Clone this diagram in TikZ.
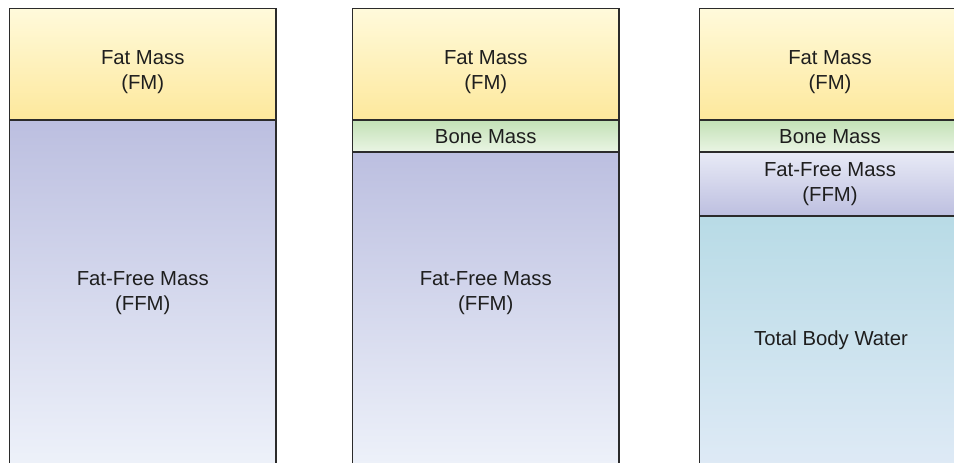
\documentclass[tikz,border=0pt]{standalone}
\usepackage{fontspec}
\setmainfont{Liberation Sans}
\definecolor{fmtop}{HTML}{FFFADB}
\definecolor{fmbot}{HTML}{FDE89C}
\definecolor{fftop}{HTML}{BCBFE0}
\definecolor{ffbot}{HTML}{EEF2FA}
\definecolor{bntop}{HTML}{C3E1B6}
\definecolor{bnbot}{HTML}{EAF5E4}
\definecolor{f3top}{HTML}{E8EAF6}
\definecolor{f3bot}{HTML}{BDBFE0}
\definecolor{wtop}{HTML}{B8DBE6}
\definecolor{wbot}{HTML}{DFEAF6}
\definecolor{edge}{HTML}{2B2B2B}
\definecolor{txt}{HTML}{1E1E1E}
\tikzset{
  lbl/.style={font=\fontsize{20.3}{24.5}\selectfont, text=txt, align=center, inner sep=0pt},
  rim/.style={draw=edge, line width=1.6pt}
}
\begin{document}
\begin{tikzpicture}[x=1pt,y=-1pt]
\useasboundingbox (0,0) rectangle (954,463);
\clip (0,0) rectangle (954,463);
% column 1
\shade[top color=fmtop, bottom color=fmbot] (9.5,8.5) rectangle (276,120);
\shade[top color=fftop, bottom color=ffbot] (9.5,120) rectangle (276,470);
\draw[rim] (9.5,470) -- (9.5,8.5) -- (276,8.5) -- (276,470);
\draw[rim] (9.5,120) -- (276,120);
\node[lbl] (fm1) at (142.75,72) {Fat Mass\\(FM)};
\node[lbl] (ffm1) at (142.75,293) {Fat-Free Mass\\(FFM)};
% column 2
\shade[top color=fmtop, bottom color=fmbot] (352.5,8.5) rectangle (619,120);
\shade[top color=bntop, bottom color=bnbot] (352.5,120) rectangle (619,152);
\shade[top color=fftop, bottom color=ffbot] (352.5,152) rectangle (619,470);
\draw[rim] (352.5,470) -- (352.5,8.5) -- (619,8.5) -- (619,470);
\draw[rim] (352.5,120) -- (619,120);
\draw[rim] (352.5,152) -- (619,152);
\node[lbl] (fm2) at (485.75,72) {Fat Mass\\(FM)};
\node[lbl] (bone2) at (485.75,137) {Bone Mass};
\node[lbl] (ffm2) at (485.75,293) {Fat-Free Mass\\(FFM)};
% column 3
\shade[top color=fmtop, bottom color=fmbot] (699.5,8.5) rectangle (966,120);
\shade[top color=bntop, bottom color=bnbot] (699.5,120) rectangle (966,152);
\shade[top color=f3top, bottom color=f3bot] (699.5,152) rectangle (966,216);
\shade[top color=wtop, bottom color=wbot] (699.5,216) rectangle (966,470);
\draw[rim] (699.5,470) -- (699.5,8.5) -- (966,8.5);
\draw[rim] (699.5,120) -- (966,120);
\draw[rim] (699.5,152) -- (966,152);
\draw[rim] (699.5,216) -- (966,216);
\node[lbl] (fm3) at (830,72) {Fat Mass\\(FM)};
\node[lbl] (bone3) at (830,137) {Bone Mass};
\node[lbl] (ffm3) at (830,184) {Fat-Free Mass\\(FFM)};
\node[lbl] (tbw3) at (831,340) {Total Body Water};
\end{tikzpicture}
\end{document}
